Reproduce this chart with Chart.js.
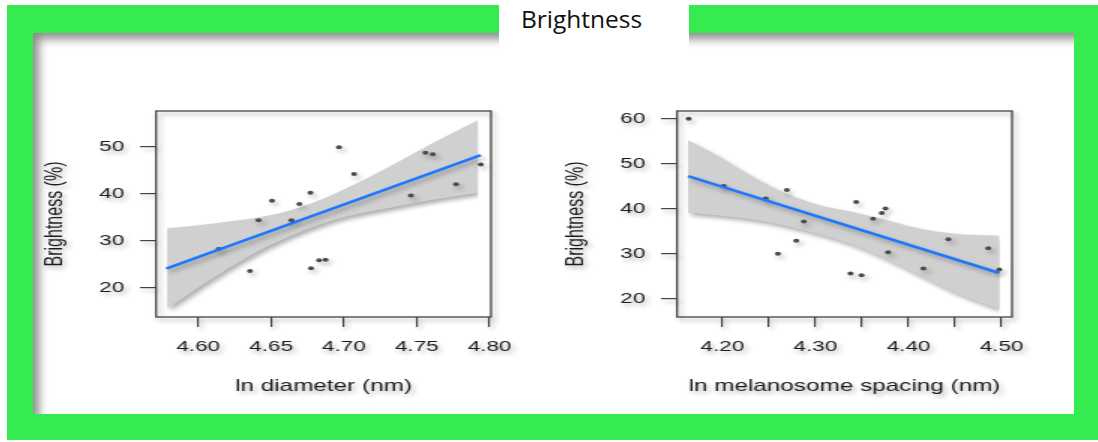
<!DOCTYPE html>
<html>
<head>
<meta charset="utf-8">
<script src="https://cdn.jsdelivr.net/npm/chart.js@4.4.1/dist/chart.umd.min.js"></script>
<style>
  html, body { margin: 0; padding: 0; background: #fff; }
  #page { position: relative; width: 1098px; height: 442px; overflow: hidden; background: #fff; }
  #frame { position: absolute; left: 7px; top: 5px; width: 1091px; height: 435px; background: #36eb4f; }
  #panel { position: absolute; left: 33px; top: 33px; width: 1041px; height: 381px; background: #fff;
           box-shadow: inset 8px 8px 10px -2px rgba(0,0,0,0.45); }
  #titleBox { position: absolute; left: 499px; top: 0; width: 190px; height: 50px; background: #fff; }
  #title { position: absolute; left: 521px; top: 2px; font-family: "Open Sans", sans-serif; font-size: 24.5px;
           line-height: 33px; color: #111; }
  .plot { position: absolute; top: 105px; width: 320px; height: 300px; transform: scaleX(1.5); transform-origin: 0 0; }
</style>
</head>
<body>
<div id="page">
  <div id="frame"></div>
  <div id="panel"></div>
  <div id="titleBox"></div>
  <div id="title">Brightness</div>
  <div class="plot" style="left:38px"><canvas id="diameterChart" width="320" height="300"></canvas></div>
  <div class="plot" style="left:559px"><canvas id="spacingChart" width="320" height="300"></canvas></div>
</div>
<script>
// left panel: brightness vs ln diameter
const diameterX = [4.614, 4.6355, 4.6414, 4.6506, 4.664, 4.6694, 4.677, 4.6774, 4.683, 4.6874, 4.6966, 4.707, 4.746, 4.756, 4.761, 4.777, 4.794];
const diameterY = [28.2, 23.5, 34.3, 38.5, 34.3, 37.8, 40.2, 24.1, 25.8, 25.9, 49.9, 44.2, 39.6, 48.7, 48.4, 42.0, 46.2];
const diameterFitX = [4.578, 4.794];
const diameterFitY = [24.0, 48.2];
const diameterBandX = [4.5786, 4.612, 4.646, 4.669, 4.695, 4.727, 4.761, 4.792];
const diameterBandHi = [32.6, 33.7, 35.2, 37.0, 40.2, 45.1, 50.8, 55.7];
const diameterBandLo = [15.5, 22.4, 28.5, 31.7, 34.6, 36.7, 38.7, 40.2];
const diameterXRange = [4.571, 4.801];
const diameterYRange = [13.7, 57.6];
const diameterXTicks = [4.60, 4.65, 4.70, 4.75, 4.80];
const diameterXLabels = ['4.60', '4.65', '4.70', '4.75', '4.80'];
const diameterYTicks = [20, 30, 40, 50];

// right panel: brightness vs ln melanosome spacing
const spacingX = [4.1638, 4.2014, 4.2465, 4.2693, 4.2597, 4.2794, 4.2876, 4.3377, 4.3438, 4.3495, 4.362, 4.3713, 4.3752, 4.3781, 4.416, 4.4428, 4.4857, 4.4975];
const spacingY = [60.1, 45.1, 42.3, 44.2, 30.0, 32.9, 37.2, 25.6, 41.5, 25.2, 37.8, 39.1, 40.1, 30.3, 26.7, 33.2, 31.2, 26.5];
const spacingFitX = [4.1631, 4.4975];
const spacingFitY = [47.3, 25.7];
const spacingBandX = [4.1631, 4.197, 4.2329, 4.2687, 4.3044, 4.340, 4.376, 4.4117, 4.4474, 4.4975];
const spacingBandHi = [55.3, 51.6, 47.1, 43.4, 40.8, 39.3, 37.5, 35.6, 34.5, 34.0];
const spacingBandLo = [39.2, 38.5, 37.6, 36.2, 34.3, 32.0, 28.8, 25.2, 21.6, 17.6];
const spacingXRange = [4.1513, 4.5112];
const spacingYRange = [15.9, 61.8];
const spacingXTicks = [4.20, 4.25, 4.30, 4.35, 4.40, 4.45, 4.50];
const spacingXLabels = ['4.20', '', '4.30', '', '4.40', '', '4.50'];
const spacingYTicks = [20, 30, 40, 50, 60];

const yTitle = 'Brightness (%)';
const textColor = '#1c1c1c';
const axisColor = '#444';

const pairs = (xs, ys) => xs.map((x, i) => ({ x: x, y: ys[i] }));

// soft drop shadow under everything, like the picture
const shadowPlugin = {
  id: 'softShadow',
  beforeDraw(chart) {
    const ctx = chart.ctx;
    ctx.shadowColor = 'rgba(0,0,0,0.32)';
    ctx.shadowBlur = 4;
    ctx.shadowOffsetX = 2;
    ctx.shadowOffsetY = 3;
  }
};

// frame round the plotting area
const boxPlugin = {
  id: 'plotBox',
  afterDraw(chart) {
    const a = chart.chartArea;
    const ctx = chart.ctx;
    ctx.save();
    ctx.strokeStyle = axisColor;
    ctx.lineWidth = 1.3;
    ctx.strokeRect(a.left, a.top, a.right - a.left, a.bottom - a.top);
    ctx.restore();
  }
};

// fixed axis sizes, no extra room for the end labels
function fixSize(s, w, h) {
  if (w) s.width = w;
  if (h) s.height = h;
  s.paddingTop = 0;
  s.paddingBottom = 0;
  s.paddingLeft = 0;
  s.paddingRight = 0;
}

function makeChart(id, d) {
  const ctx = document.getElementById(id);
  return new Chart(ctx, {
    type: 'line',
    data: {
      datasets: [
        { // regression line
          data: pairs(d.fitX, d.fitY), borderColor: '#1f77ff', borderWidth: 2.6,
          pointRadius: 0, fill: false
        },
        { // observations
          data: pairs(d.x, d.y), showLine: false, pointRadius: 2,
          pointBackgroundColor: '#4d4d4d', pointBorderWidth: 0
        },
        { // confidence band, upper edge filled down to lower edge
          data: pairs(d.bandX, d.bandHi), borderWidth: 0, pointRadius: 0,
          backgroundColor: '#d0d0d0', fill: '+1', cubicInterpolationMode: 'monotone'
        },
        {
          data: pairs(d.bandX, d.bandLo), borderWidth: 0, pointRadius: 0,
          fill: false, cubicInterpolationMode: 'monotone'
        }
      ]
    },
    options: {
      responsive: false,
      animation: false,
      events: [],
      layout: { autoPadding: false, padding: { top: 6, right: 18, left: 0, bottom: 0 } },
      plugins: { legend: { display: false }, tooltip: { enabled: false } },
      scales: {
        x: {
          type: 'linear', min: d.xRange[0], max: d.xRange[1],
          afterBuildTicks: s => { s.ticks = d.xTicks.map(v => ({ value: v })); },
          afterFit: s => fixSize(s, 0, 88),
          ticks: {
            padding: 10.5, color: textColor, maxRotation: 0, autoSkip: false,
            font: { family: 'Liberation Sans, Arial, sans-serif', size: 15 },
            callback: (v, i) => d.xLabels[i]
          },
          grid: { drawOnChartArea: false, drawTicks: true, tickLength: 10, color: axisColor, lineWidth: 1.2 },
          border: { display: false },
          title: {
            display: true, text: d.xTitle, color: textColor, padding: { top: 0, bottom: 8.8 },
            font: { family: 'Liberation Sans, Arial, sans-serif', size: 16.2 }
          }
        },
        y: {
          type: 'linear', min: d.yRange[0], max: d.yRange[1],
          afterBuildTicks: s => { s.ticks = d.yTicks.map(v => ({ value: v })); },
          afterFit: s => fixSize(s, 78.7, 0),
          ticks: {
            padding: 10.5, color: textColor,
            font: { family: 'Liberation Sans, Arial, sans-serif', size: 15 }
          },
          grid: { drawOnChartArea: false, drawTicks: true, tickLength: 10.7, color: axisColor, lineWidth: 1.2 },
          border: { display: false },
          title: {
            display: true, text: yTitle, color: textColor, padding: { top: 1.7, bottom: 0 },
            font: { family: 'Liberation Sans, Arial, sans-serif', size: 16 }
          }
        }
      }
    },
    plugins: [shadowPlugin, boxPlugin]
  });
}

makeChart('diameterChart', {
  x: diameterX, y: diameterY, fitX: diameterFitX, fitY: diameterFitY,
  bandX: diameterBandX, bandHi: diameterBandHi, bandLo: diameterBandLo,
  xRange: diameterXRange, yRange: diameterYRange,
  xTicks: diameterXTicks, xLabels: diameterXLabels, yTicks: diameterYTicks,
  xTitle: 'ln diameter (nm)'
});

makeChart('spacingChart', {
  x: spacingX, y: spacingY, fitX: spacingFitX, fitY: spacingFitY,
  bandX: spacingBandX, bandHi: spacingBandHi, bandLo: spacingBandLo,
  xRange: spacingXRange, yRange: spacingYRange,
  xTicks: spacingXTicks, xLabels: spacingXLabels, yTicks: spacingYTicks,
  xTitle: 'ln melanosome spacing (nm)'
});
</script>
</body>
</html>
